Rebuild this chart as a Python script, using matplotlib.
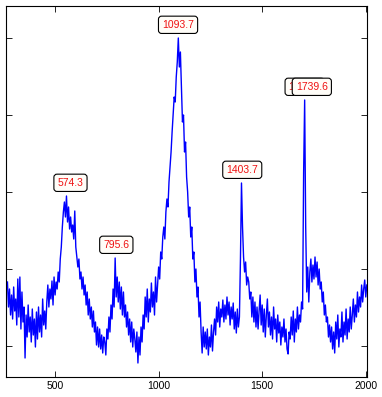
import matplotlib
matplotlib.use('Agg')
import matplotlib.pyplot as plt
import numpy as np

# raman-like spectrum, sampled every 5 units from 270
wavenumber = np.arange(270, 2006, 5)
intensity = [
    95, 70, 88, 62, 82, 58, 90, 66, 78, 52, 98, 60, 100, 48, 85, 55, 70, 19, 62, 40,
    72, 45, 60, 35, 68, 42, 58, 30, 65, 38, 70, 45, 62, 40, 78, 52, 66, 48,
    75, 92, 70, 88, 78, 96, 72, 100, 82, 95, 88, 105, 95, 118, 130, 150, 165, 175, 160, 181,
    155, 170, 148, 160, 145, 152, 138, 166, 130, 120, 110, 118, 98, 105, 88, 100, 82,
    92, 72, 85, 62, 78, 58, 70, 50, 66, 45, 55, 32, 50, 30, 48, 28, 42, 24, 40,
    35, 22, 48, 38, 60, 45, 72, 58, 88, 70, 119, 80, 100, 75, 95, 68, 90, 62, 85,
    60, 72, 50, 65, 42, 58, 35, 55, 30, 48, 38, 25, 45, 14, 40, 22, 50, 35, 62, 48, 80,
    60, 88, 55, 78, 65, 94, 70, 85, 62, 100, 75, 92, 110, 98, 125, 118, 140, 150, 138,
    165, 178, 170, 195, 210, 225, 245, 262, 280, 275, 300, 315, 339, 310, 325, 290, 255, 262, 225, 235,
    200, 185, 160, 170, 140, 150, 118, 125, 95, 108, 80, 90, 60, 75, 45, 24, 50, 30, 45, 28,
    48, 22, 40, 30, 52, 26, 45, 58, 42, 70, 55, 75, 50, 68, 60, 77, 55, 72, 58, 80,
    62, 75, 52, 70, 58, 74, 48, 65, 44, 68, 50, 60, 118, 194, 150, 120, 105, 115, 92, 100,
    95, 78, 85, 60, 80, 55, 75, 50, 70, 48, 66, 82, 52, 72, 45, 68, 40, 62, 78, 50,
    65, 42, 60, 38, 70, 48, 58, 35, 62, 44, 55, 32, 50, 40, 58, 35, 48, 28, 23, 45,
    38, 60, 42, 66, 35, 58, 45, 70, 48, 62, 55, 75, 68, 204, 277, 150, 85, 110, 75, 105,
    118, 95, 112, 98, 120, 100, 115, 92, 108, 88, 95, 75, 85, 62, 72, 55, 60, 40, 52, 35,
    50, 28, 45, 24, 55, 38, 62, 30, 48, 40, 65, 35, 55, 42, 68, 38, 58, 45, 70, 48,
    62, 78, 55, 72, 60, 85, 65, 80, 70, 92, 75, 88, 97, 80, 92,
]

# data tips (the 1704.9 one sits under 1739.6)
tip_x = [574.3, 795.6, 1093.7, 1403.7, 1704.9, 1739.6]
tip_y = [181, 119, 339, 194, 277, 277]
tip_labels = ['574.3', '795.6', '1093.7', '1403.7', '1704.9', '1739.6']

x_ticks = [500, 1000, 1500, 2000]
y_ticks = [31, 108, 185, 262, 339]

plt.rcParams['font.family'] = ['Liberation Sans', 'DejaVu Sans']

fig = plt.figure(figsize=(3.82, 3.97), dpi=100)
ax = fig.add_axes([6 / 382, 20 / 397, 361 / 382, 371 / 397])

ax.plot(wavenumber, intensity, color='#0000ff', lw=1.0)

for x, y, s in zip(tip_x, tip_y, tip_labels):
    ax.annotate(s, xy=(x, y), xytext=(0, 9.5), textcoords='offset points',
                ha='center', va='center', fontsize=7.5, color='#ee1111',
                bbox=dict(boxstyle='round,pad=0.35,rounding_size=0.3', fc='#fffdf8', ec='black', lw=0.8))

ax.set_xlim(263, 2006)
ax.set_ylim(0, 371)
ax.set_xticks(x_ticks)
ax.set_yticks(y_ticks)
ax.set_yticklabels([])
ax.tick_params(direction='in', top=True, right=True, length=4, width=0.6, labelsize=7.5, pad=3)
for sp in ax.spines.values():
    sp.set_linewidth(0.8)

fig.savefig('out.png', dpi=100)
